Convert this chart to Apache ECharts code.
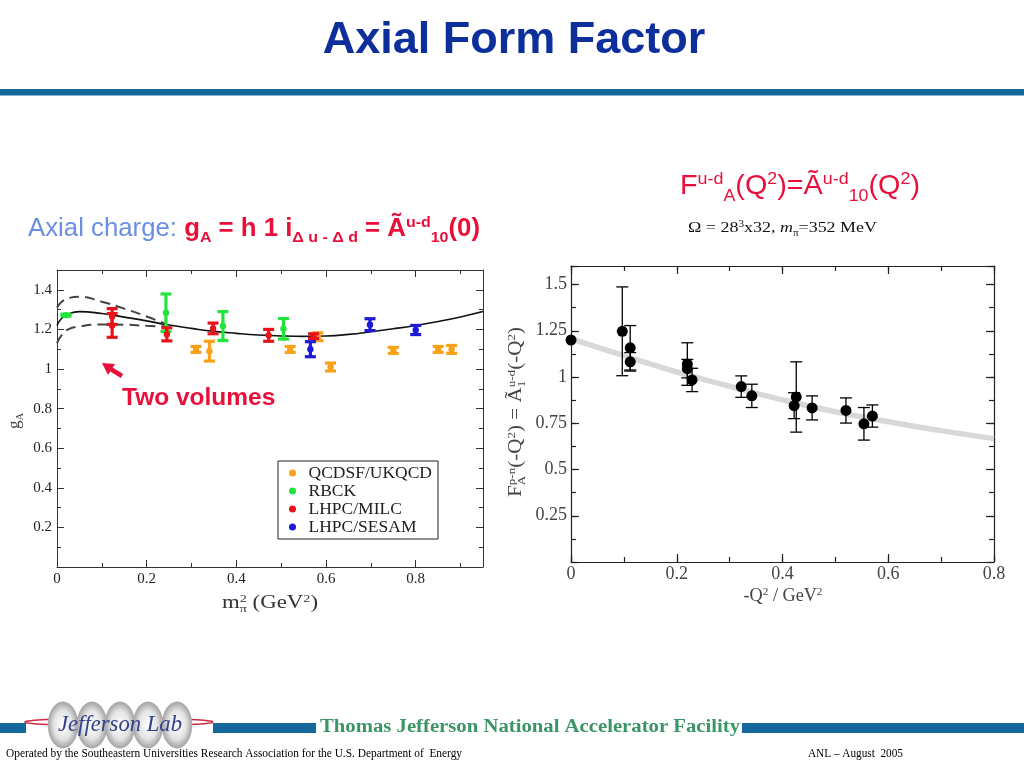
<!DOCTYPE html>
<html><head><meta charset="utf-8">
<script src="https://cdn.jsdelivr.net/npm/echarts@6/dist/echarts.min.js"></script>
<style>html,body{margin:0;padding:0;background:#fff}#c{width:1024px;height:768px}</style>
</head><body><div id="c"></div>
<script>
// ---------- DATA ----------
// left chart: g_A vs m_pi^2, each point [x, y, error]
const seriesNames = ['QCDSF/UKQCD', 'RBCK', 'LHPC/MILC', 'LHPC/SESAM'];
const qcdsf = [[0.31,1.099,0.015],[0.34,1.09,0.05],[0.52,1.099,0.015],[0.582,1.163,0.02],[0.61,1.01,0.02],[0.75,1.094,0.015],[0.85,1.099,0.015],[0.88,1.099,0.02]];
const rbck  = [[0.02,1.272,0.005],[0.243,1.284,0.095],[0.37,1.217,0.073],[0.505,1.203,0.052]];
const milc  = [[0.123,1.265,0.04],[0.123,1.22,0.06],[0.245,1.175,0.033],[0.348,1.205,0.027],[0.472,1.17,0.03],[0.572,1.166,0.012]];
const sesam = [[0.565,1.10,0.038],[0.698,1.224,0.03],[0.80,1.197,0.023]];
// chiral fit curves
const fitX       = [0,0.01,0.025,0.05,0.1,0.15,0.2,0.25,0.3,0.35,0.4,0.45,0.5,0.55,0.6,0.65,0.7,0.75,0.8,0.85,0.9,0.95];
const fitCentral = [1.22,1.255,1.278,1.29,1.28,1.262,1.243,1.222,1.205,1.19,1.18,1.172,1.167,1.165,1.167,1.175,1.188,1.203,1.22,1.24,1.263,1.29];
const bandX      = [0,0.01,0.025,0.05,0.1,0.15,0.2,0.245];
const bandUpper  = [1.31,1.338,1.358,1.365,1.34,1.305,1.265,1.225];
const bandLower  = [1.13,1.17,1.2,1.215,1.225,1.224,1.218,1.215];
// right chart: axial form factor vs -Q^2, each point [x, y, error]
const formFactor = [[0,1.2,0],[0.097,1.247,0.24],[0.112,1.158,0.12],[0.112,1.082,0.05],[0.22,1.07,0.115],[0.22,1.045,0.05],[0.229,0.984,0.063],[0.322,0.948,0.058],[0.342,0.898,0.063],[0.422,0.845,0.07],[0.426,0.892,0.19],[0.456,0.833,0.065],[0.52,0.819,0.068],[0.554,0.747,0.088],[0.57,0.789,0.06]];
const dipoleX = [0,0.1,0.2,0.3,0.4,0.5,0.6,0.7,0.8];
const dipoleY = [1.208,1.115,1.027,0.95,0.876,0.812,0.758,0.71,0.667];
// axis ranges / ticks
const leftXRange = [0,0.95], leftYRange = [0,1.5];
const rightXRange = [0,0.8], rightYRange = [0,1.6];

// ---------- helpers ----------
const RED = '#e8103a', BAR = '#15689c';
const mctx = document.createElement('canvas').getContext('2d');
function tw(t, fs, fam, wt, st){ mctx.font = (st||'normal')+' '+(wt||'normal')+' '+fs+'px '+fam; return mctx.measureText(t).width; }
function mathGroup(parts, o){
  const size = o.size, fam = o.family;
  let cx = 0, lastScriptStart = 0; const kids = [];
  parts.forEach(p => {
    const t = p[0], k = p[1] || 'n', e = p[2] || {};
    const fs = k === 'n' ? size : size * (o.ratio || 0.62);
    const dy = k === 'sup' ? -size * (o.supUp || 0.36) : k === 'sub' ? size * (o.subDown || 0.2) : 0;
    const wt = e.weight || o.weight || 'normal', st = e.italic ? 'italic' : 'normal';
    const w = tw(t, fs, fam, wt, st);
    const x0 = e.stack ? lastScriptStart : cx;
    if (!e.stack && k !== 'n') lastScriptStart = x0;
    kids.push({x0, dy, t, fs, wt, st, color: e.color || o.color});
    cx = Math.max(cx, x0 + w);
  });
  const W = cx, sx = o.fitWidth ? o.fitWidth / W : 1;
  const off = o.align === 'center' ? -W / 2 : 0;
  return {type:'group', x:o.x, y:o.y, rotation:o.rotation || 0, scaleX:sx, silent:true, z:10,
    children: kids.map(k => ({type:'text', x:k.x0 + off, y:k.dy - 0.31 * k.fs,
      style:{text:k.t, fontSize:k.fs, fontFamily:fam, fontWeight:k.wt, fontStyle:k.st, fill:k.color, align:'left', verticalAlign:'middle'}}))};
}
function isMult(v, step){ const q = v / step; return Math.abs(q - Math.round(q)) < 1e-6; }
function fmtNum(v){ return String(parseFloat(v.toFixed(3))); }
function axisSet(dim, grid, range, major, minor, label, majLen, minLen, color, lw){
  const positions = dim === 'x' ? ['bottom','top'] : ['left','right'];
  const res = [];
  positions.forEach((pos, pi) => {
    res.push({type:'value', gridIndex:grid, position:pos, min:range[0], max:range[1], interval:major,
      axisLine:{show:true, onZero:false, lineStyle:{color, width:lw}},
      axisTick:{show:true, inside:true, length:majLen, lineStyle:{color, width:lw}},
      axisLabel: pi === 0 ? label : {show:false}, splitLine:{show:false}});
    res.push({type:'value', gridIndex:grid, position:pos, min:range[0], max:range[1], interval:minor,
      axisLine:{show:false, onZero:false}, axisTick:{show:true, inside:true, length:minLen, lineStyle:{color, width:lw}},
      axisLabel:{show:false}, splitLine:{show:false}});
  });
  return res;
}
function errItem(lw, cap, r){
  return (params, api) => {
    const x = api.value(0), y = api.value(1), e = api.value(2);
    const c = api.coord([x, y]), hi = api.coord([x, y + e]), lo = api.coord([x, y - e]);
    const col = api.visual('color');
    const st = {stroke:col, lineWidth:lw};
    const ch = [];
    if (e > 0) {
      ch.push({type:'line', shape:{x1:c[0], y1:hi[1], x2:c[0], y2:lo[1]}, style:st});
      ch.push({type:'line', shape:{x1:c[0]-cap, y1:hi[1], x2:c[0]+cap, y2:hi[1]}, style:st});
      ch.push({type:'line', shape:{x1:c[0]-cap, y1:lo[1], x2:c[0]+cap, y2:lo[1]}, style:st});
    }
    ch.push({type:'circle', shape:{cx:c[0], cy:c[1], r}, style:{fill:col}});
    return {type:'group', children:ch};
  };
}
const zip = (xs, ys) => xs.map((x, i) => [x, ys[i]]);

// ---------- axes ----------
const leftLbl = (step, showZero) => ({show:true, fontFamily:'Liberation Serif', fontSize:15, color:'#222', margin:5,
  formatter: v => (isMult(v, step) && (showZero || v > 1e-9)) ? fmtNum(v) : ''});
const rightLbl = (step, showZero, m) => ({show:true, fontFamily:'Liberation Serif', fontSize:18, color:'#444', margin:m,
  formatter: v => (isMult(v, step) && (showZero || v > 1e-9)) ? fmtNum(v) : ''});

const xAxes = [].concat(
  axisSet('x', 0, leftXRange, 0.2, 0.1, leftLbl(0.2, true), 7, 4, '#333', 1),
  axisSet('x', 1, rightXRange, 0.2, 0.1, rightLbl(0.2, true, 3), 8, 5, '#222', 1.2));
const yAxes = [].concat(
  axisSet('y', 0, leftYRange, 0.2, 0.1, leftLbl(0.2, false), 7, 4, '#333', 1),
  axisSet('y', 1, rightYRange, 0.25, 0.125, rightLbl(0.25, false, 4), 8, 5, '#222', 1.2));

const colors = ['#f8a21a', '#22e43a', '#e8141c', '#1a1ad8'];
const leftSets = [qcdsf, rbck, milc, sesam];

const series = [
  {type:'line', xAxisIndex:0, yAxisIndex:0, data:zip(fitX, fitCentral), smooth:true, showSymbol:false, lineStyle:{color:'#111', width:1.6}, z:2, silent:true},
  {type:'line', xAxisIndex:0, yAxisIndex:0, data:zip(bandX, bandUpper), smooth:true, showSymbol:false, lineStyle:{color:'#444', width:2, type:[10,6]}, z:2, silent:true},
  {type:'line', xAxisIndex:0, yAxisIndex:0, data:zip(bandX, bandLower), smooth:true, showSymbol:false, lineStyle:{color:'#444', width:2, type:[10,6]}, z:2, silent:true}
];
leftSets.forEach((d, i) => series.push({type:'custom', name:seriesNames[i], xAxisIndex:0, yAxisIndex:0, data:d,
  encode:{x:0, y:1}, itemStyle:{color:colors[i]}, renderItem:errItem(3.2, 5.5, 3.2), z:3}));
series.push({type:'line', xAxisIndex:4, yAxisIndex:4, data:zip(dipoleX, dipoleY), smooth:true, showSymbol:false, lineStyle:{color:'#d8d8d8', width:5.5}, z:2, silent:true});
series.push({type:'custom', name:'lattice', xAxisIndex:4, yAxisIndex:4, data:formFactor, encode:{x:0, y:1}, itemStyle:{color:'#000'}, renderItem:errItem(1.3, 6, 5.5), z:3});

// ---------- slide decorations ----------
const g = [];
g.push({type:'text', x:514, y:41, z:10, style:{text:'Axial Form Factor', fontFamily:'Liberation Sans', fontWeight:'bold', fontSize:45, fill:'#0c2f9c', align:'center', verticalAlign:'middle'}});
g.push({type:'rect', shape:{x:0, y:89, width:1024, height:6.5}, style:{fill:BAR}});

g.push(mathGroup([['Axial charge: ','n',{color:'#6a8fe2', weight:'normal'}], ['g'], ['A','sub'], [' = h 1 i'], ['Δ u - Δ d','sub'], [' = Ã'], ['u-d','sup'], ['10','sub'], ['(0)']],
  {x:28, y:237, size:25, family:'Liberation Sans', weight:'bold', color:RED, fitWidth:452, supUp:0.38, subDown:0.24}));
g.push(mathGroup([['F'], ['u-d','sup'], ['A','sub'], ['(Q'], ['2','sup'], [')=Ã'], ['u-d','sup'], ['10','sub'], ['(Q'], ['2','sup'], [')']],
  {x:680, y:195, size:28, family:'Liberation Sans', color:RED, fitWidth:240, supUp:0.36, subDown:0.24}));
g.push(mathGroup([['Ω = 28'], ['3','sup'], ['x32, '], ['m','n',{italic:true}], ['π','sub'], ['=352 MeV']],
  {x:688, y:233, size:15, family:'Liberation Serif', color:'#111', fitWidth:189}));

// axis titles
g.push(mathGroup([['g'], ['A','sub']], {x:20, y:421, rotation:Math.PI/2, align:'center', size:17, family:'Liberation Serif', color:'#444'}));
g.push(mathGroup([['m'], ['2','sup'], ['π','sub',{stack:true}], [' (GeV'], ['2','sup'], [')']],
  {x:270, y:609, align:'center', size:18, family:'Liberation Serif', color:'#333', fitWidth:96}));
g.push(mathGroup([['-Q'], ['2','sup'], [' / GeV'], ['2','sup']],
  {x:783, y:602, align:'center', size:18, family:'Liberation Serif', color:'#444', fitWidth:79}));
g.push(mathGroup([['F'], ['p-n','sup'], ['A','sub',{stack:true}], ['(-Q'], ['2','sup'], [') = Ã'], ['u-d','sup'], ['1','sub',{stack:true}], ['(-Q'], ['2','sup'], [')']],
  {x:522, y:412, rotation:Math.PI/2, align:'center', size:18, family:'Liberation Serif', color:'#444', fitWidth:170}));

// annotation
g.push({type:'text', x:122, y:398, z:10, style:{text:'Two volumes', fontFamily:'Liberation Sans', fontWeight:'bold', fontSize:24.5, fill:RED, align:'left', verticalAlign:'middle'}});
g.push({type:'polygon', z:10, shape:{points:[[102,363],[115,364],[108,375]]}, style:{fill:RED}});
g.push({type:'line', z:10, shape:{x1:109, y1:368, x2:122, y2:376}, style:{stroke:RED, lineWidth:4.5}});

// footer
g.push({type:'rect', shape:{x:0, y:723, width:26, height:10}, style:{fill:BAR}});
g.push({type:'rect', shape:{x:213, y:723, width:103, height:10}, style:{fill:BAR}});
g.push({type:'rect', shape:{x:742, y:723, width:282, height:10}, style:{fill:BAR}});
const ring = [];
for (let i = 0; i <= 72; i++) { const a = i / 72 * Math.PI * 2; ring.push([119 + 94 * Math.cos(a), 722 + 4 * Math.sin(a)]); }
g.push({type:'polyline', shape:{points:ring}, style:{stroke:'#d02a40', lineWidth:1.5, fill:null}});
[63, 92, 120, 148, 177].forEach(cx => g.push({type:'circle', x:cx, y:725, scaleY:1.55, shape:{cx:0, cy:0, r:15},
  style:{fill:{type:'radial', x:0.5, y:0.5, r:0.55, colorStops:[{offset:0, color:'#ffffff'},{offset:0.55, color:'#e4e4e4'},{offset:1, color:'#8e8e8e'}]}, stroke:'#b0b0b0', lineWidth:0.4}}));
g.push(mathGroup([['Jefferson Lab','n',{italic:true}]], {x:120, y:732, align:'center', size:23, family:'Liberation Serif', color:'#34428a', fitWidth:124}));
g.push(mathGroup([['Thomas Jefferson National Accelerator Facility']], {x:320, y:733, size:18, family:'Liberation Serif', weight:'bold', color:'#3c9566', fitWidth:420}));
g.push(mathGroup([['Operated by the Southeastern Universities Research Association for the U.S. Department of  Energy']], {x:6, y:758, size:12, family:'Liberation Serif', color:'#000', fitWidth:456}));
g.push(mathGroup([['ANL – August  2005']], {x:808, y:758, size:12, family:'Liberation Serif', color:'#000', fitWidth:95}));

const chart = echarts.init(document.getElementById('c'));
chart.setOption({
  animation:false,
  backgroundColor:'#fff',
  grid:[{left:57, top:270, width:426, height:297, outerBoundsMode:'none'}, {left:571, top:266, width:423, height:296, outerBoundsMode:'none'}],
  xAxis:xAxes, yAxis:yAxes,
  legend:{orient:'vertical', left:278, top:461, data:seriesNames.map(n => ({name:n, icon:'circle'})), itemWidth:22, itemHeight:7, itemGap:0,
    padding:[3,6,3,11], borderColor:'#222', borderWidth:1, backgroundColor:'#fff', selectedMode:false,
    textStyle:{fontFamily:'Liberation Serif', fontSize:17.5, color:'#222', lineHeight:17.3}},
  series:series,
  graphic:g
});
</script></body></html>
